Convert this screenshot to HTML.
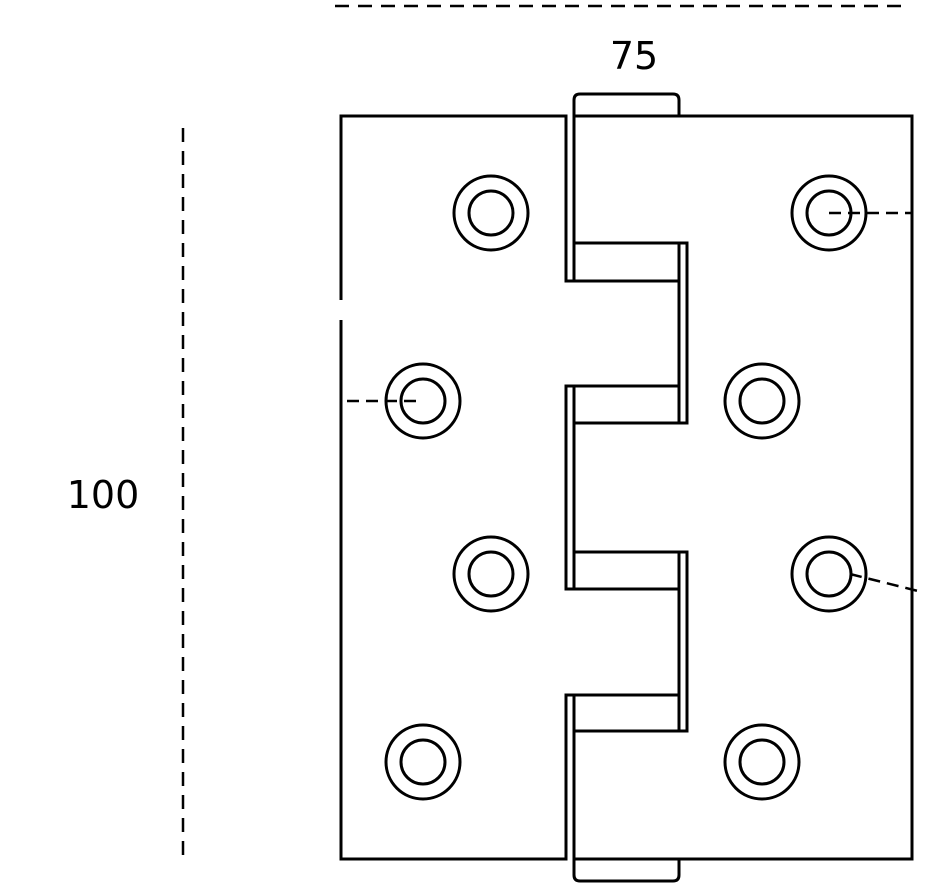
<!DOCTYPE html>
<html><head><style>body{margin:0;background:#fff}svg{display:block}</style></head><body>
<svg width="942" height="895" viewBox="0 0 942 895" xmlns="http://www.w3.org/2000/svg">
<g fill="none" stroke="#000" stroke-width="3">
<line x1="335" y1="6" x2="905" y2="6" stroke-dasharray="14,9" stroke-width="2.5"/>
<line x1="183" y1="128" x2="183" y2="860" stroke-dasharray="14,9" stroke-width="2.5"/>
<path d="M566,116 H341 V859 H566 V695 H679 V589 H566 V386 H679 V281 H566 Z"/>
<path d="M574,116 V243 H687 V423 H574 V552 H687 V731 H574 V859 H912 V116 Z"/>
<rect x="574" y="243" width="105" height="38"/>
<rect x="574" y="386" width="105" height="37"/>
<rect x="574" y="552" width="105" height="37"/>
<rect x="574" y="695" width="105" height="36"/>
<path d="M574,116 V100 Q574,94 580,94 H673 Q679,94 679,100 V116"/>
<path d="M574,859 V875 Q574,881 580,881 H673 Q679,881 679,875 V859"/>
<g>
<circle cx="491" cy="213" r="37"/><circle cx="491" cy="213" r="22"/>
<circle cx="829" cy="213" r="37"/><circle cx="829" cy="213" r="22"/>
<circle cx="423" cy="401" r="37"/><circle cx="423" cy="401" r="22"/>
<circle cx="762" cy="401" r="37"/><circle cx="762" cy="401" r="22"/>
<circle cx="491" cy="574" r="37"/><circle cx="491" cy="574" r="22"/>
<circle cx="829" cy="574" r="37"/><circle cx="829" cy="574" r="22"/>
<circle cx="423" cy="762" r="37"/><circle cx="423" cy="762" r="22"/>
<circle cx="762" cy="762" r="37"/><circle cx="762" cy="762" r="22"/>
</g>
<line x1="347" y1="401" x2="423" y2="401" stroke-dasharray="12,7" stroke-width="2.5"/>
<line x1="829" y1="213" x2="912" y2="213" stroke-dasharray="12,7" stroke-width="2.5"/>
<line x1="850" y1="574" x2="918" y2="591" stroke-dasharray="12,7" stroke-width="2.5"/>
</g>
<rect x="338" y="300" width="6" height="20" fill="#fff"/>
<text x="634" y="69" font-family="DejaVu Sans, Liberation Sans, sans-serif" font-size="38" text-anchor="middle">75</text>
<text x="103" y="508" font-family="DejaVu Sans, Liberation Sans, sans-serif" font-size="38" text-anchor="middle">100</text>
</svg>
</body></html>
